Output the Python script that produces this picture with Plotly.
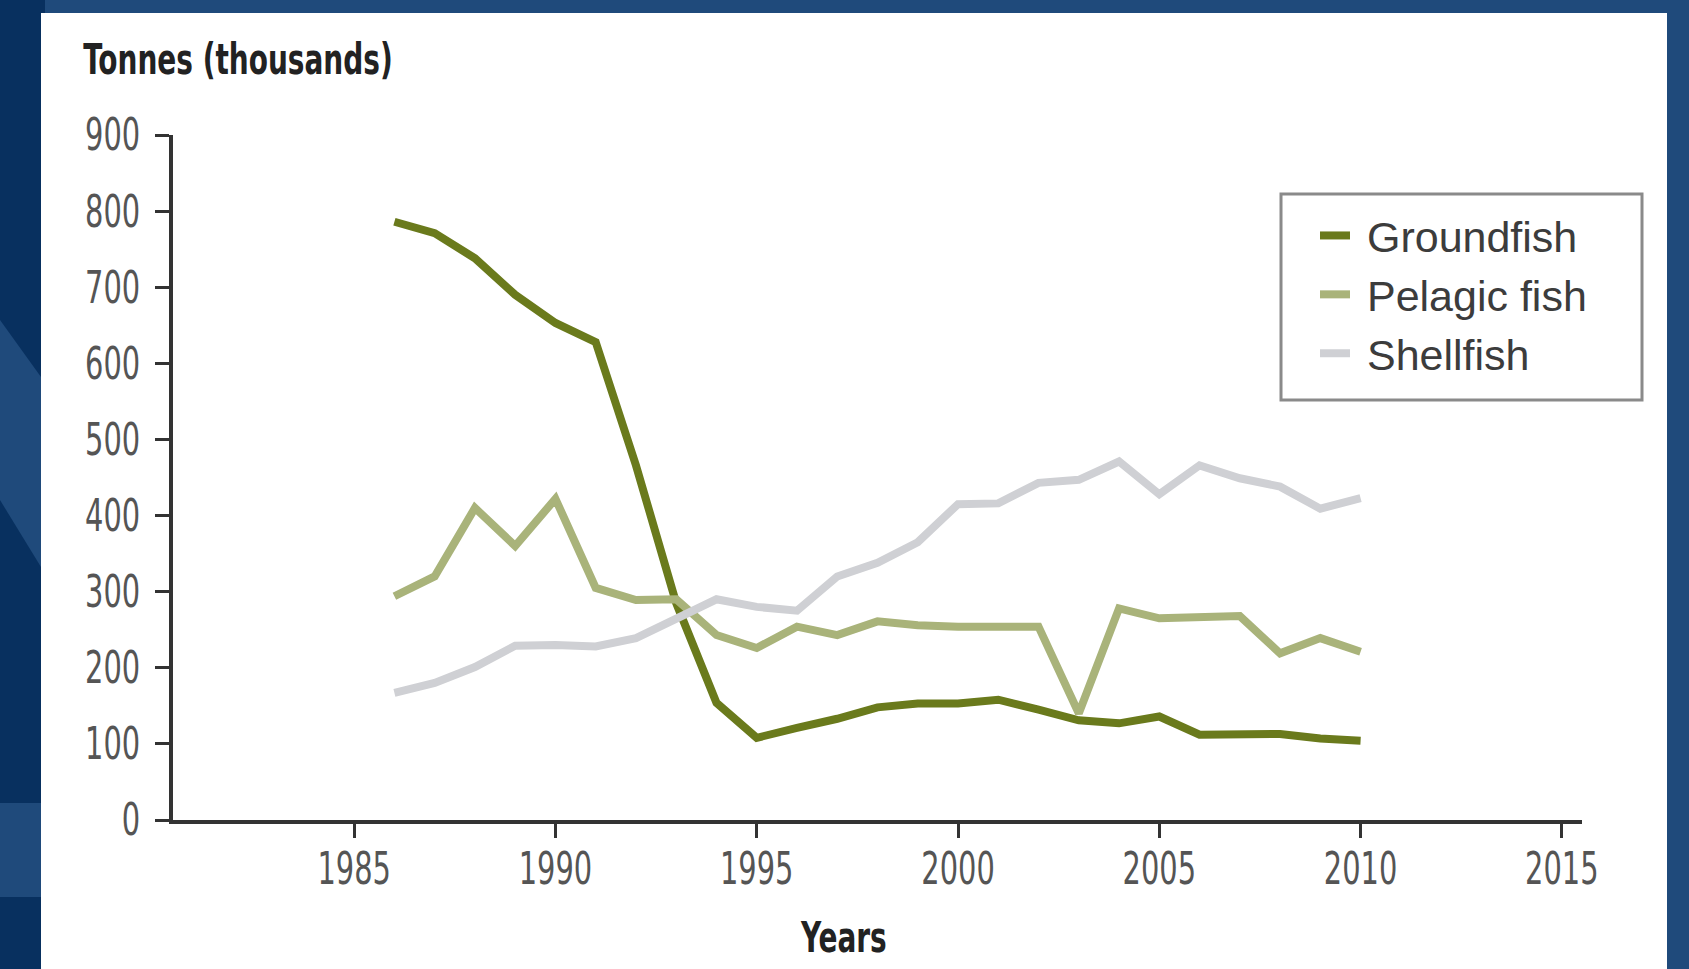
import plotly.graph_objects as go

# Annual landings, thousands of tonnes
years = list(range(1986, 2011))
groundfish = [786, 771, 738, 690, 653, 628, 466, 285, 154, 108, 121, 133, 148, 153, 153, 158,
              145, 131, 127, 136, 112, 112, 113, 107, 104]
pelagic_fish = [294, 320, 410, 360, 422, 305, 289, 290, 243, 226, 254, 243, 261, 256, 254, 255,
                254, 140, 278, 265, 267, 268, 219, 239, 221]
shellfish = [167, 180, 201, 229, 230, 228, 239, 264, 290, 280, 275, 320, 338, 365, 415, 416,
             443, 447, 471, 428, 466, 449, 438, 409, 423]

series_names = ["Groundfish", "Pelagic fish", "Shellfish"]
series_values = [groundfish, pelagic_fish, shellfish]
series_colors = ["#6a7a1c", "#a9b37a", "#cfd0d4"]

y_ticks = list(range(0, 901, 100))
x_ticks = list(range(1985, 2016, 5))

W, H = 1689, 969
L, R, T, B = 173, 1582, 135, 820  # plot area in pixels


def px(x):
    return (x - L) / (R - L)


def py(y):
    return (B - y) / (B - T)


COND = "DejaVu Sans Condensed, sans-serif"
LEGEND_FONT = "Liberation Sans, Arial, sans-serif"

fig = go.Figure()
for name, vals, col in zip(series_names, series_values, series_colors):
    fig.add_trace(go.Scatter(x=years, y=vals, name="\u00a0" + name, mode="lines",
                             line=dict(color=col, width=8), cliponaxis=False))

navy = "#08305f"
light = "#1f4a7b"
shapes = [
    # top and right light strips
    dict(type="rect", x0=px(45), x1=px(W), y0=py(0), y1=py(13), fillcolor=light),
    dict(type="rect", x0=px(1667), x1=px(W), y0=py(0), y1=py(H), fillcolor=light),
    # diagonal band and block on the left edge
    dict(type="path", fillcolor=light,
         path=f"M{px(0)},{py(320)} L{px(41)},{py(377)} L{px(41)},{py(567)} L{px(0)},{py(500)} Z"),
    dict(type="rect", x0=px(0), x1=px(41), y0=py(803), y1=py(897), fillcolor=light),
    # white panel
    dict(type="rect", x0=px(41), x1=px(1667), y0=py(13), y1=py(H), fillcolor="white"),
]
for s in shapes:
    s.update(xref="paper", yref="paper", layer="below", line=dict(width=0))
# legend frame
shapes.append(dict(type="rect", xref="paper", yref="paper", layer="below",
                   x0=px(1281), x1=px(1642), y0=py(194), y1=py(400),
                   fillcolor="white", line=dict(color="#8a8a8a", width=3)))

fig.update_layout(
    width=W, height=H,
    margin=dict(l=L, r=W - R, t=T, b=H - B, pad=0),
    paper_bgcolor=navy,
    plot_bgcolor="rgba(0,0,0,0)",
    shapes=shapes,
    showlegend=True,
    legend=dict(
        x=px(1315), y=py(201), xanchor="left", yanchor="top",
        bgcolor="rgba(0,0,0,0)", borderwidth=0,
        font=dict(family=LEGEND_FONT, size=43, color="#3c3c3c"),
        tracegroupgap=0,
    ),
    xaxis=dict(
        range=[1980.5, 2015.5], tickvals=x_ticks, ticks="outside", ticklen=14,
        tickwidth=3, tickcolor="#333", showline=True, linecolor="#333", linewidth=4,
        showgrid=False, zeroline=False, ticklabelstandoff=-7,
        tickfont=dict(family=COND, size=44, color="#555"),
    ),
    yaxis=dict(
        range=[0, 900], tickvals=y_ticks, ticks="outside", ticklen=14,
        tickwidth=3, tickcolor="#333", showline=True, linecolor="#333", linewidth=4,
        showgrid=False, zeroline=False, ticklabelstandoff=6,
        tickfont=dict(family=COND, size=44, color="#555"),
    ),
    annotations=[
        dict(text="Tonnes (thousands)", x=px(238), y=py(59), xref="paper", yref="paper",
             xanchor="center", yanchor="middle", showarrow=False,
             font=dict(family=COND, size=42, color="#222", weight="bold")),
        dict(text="Years", x=px(843), y=py(937), xref="paper", yref="paper",
             xanchor="center", yanchor="middle", showarrow=False,
             font=dict(family=COND, size=42, color="#222", weight="bold")),
    ],
)

# Narrow the axis texts horizontally to a condensed look
squeeze_js = """
var gd = document.getElementById('{plot_id}');
function squeeze(selector, factor) {
  gd.querySelectorAll(selector).forEach(function (t) {
    var w = t.getComputedTextLength();
    if (w > 0) {
      t.setAttribute('textLength', (w * factor).toFixed(1));
      t.setAttribute('lengthAdjust', 'spacingAndGlyphs');
    }
  });
}
squeeze('.xtick text', 0.73);
squeeze('.ytick text', 0.73);
squeeze('.annotation-text', 0.74);
"""

fig.write_html("out.html", post_script=squeeze_js)
